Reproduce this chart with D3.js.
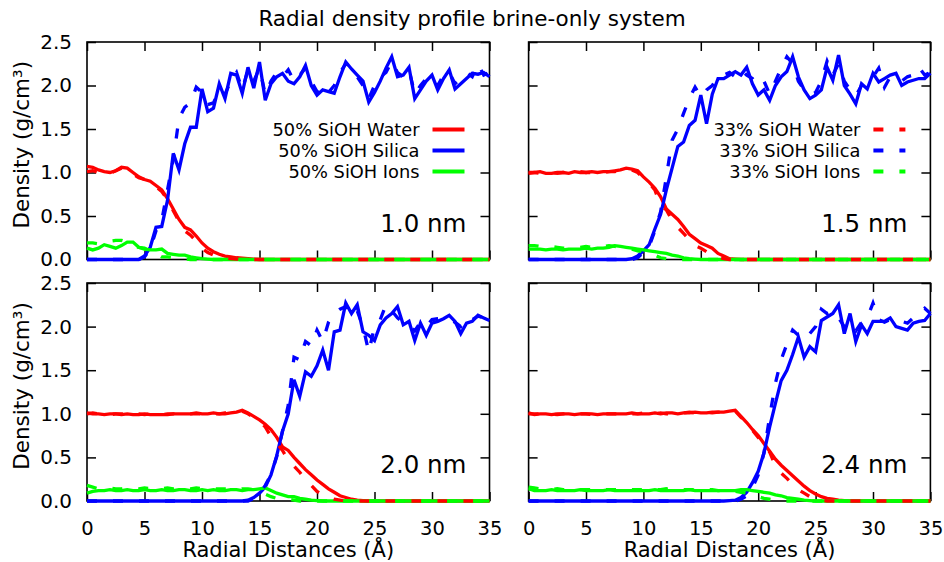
<!DOCTYPE html>
<html><head><meta charset="utf-8">
<script src="https://cdn.jsdelivr.net/npm/d3@7"></script>
<style>body{margin:0;background:#fff}svg{display:block}</style>
</head><body>
<svg id="c" width="944" height="562"></svg>
<script>
// ---------- DATA ----------
const radius = [0,0.5,1,1.5,2,2.5,3,3.5,4,4.5,5,5.5,6,6.5,7,7.5,8,8.5,9,9.5,10,10.5,11,11.5,12,12.5,13,13.5,14,14.5,15,15.5,16,16.5,17,17.5,18,18.5,19,19.5,20,20.5,21,21.5,22,22.5,23,23.5,24,24.5,25,25.5,26,26.5,27,27.5,28,28.5,29,29.5,30,30.5,31,31.5,32,32.5,33,33.5,34,34.5,35];
const xTickValues = [0,5,10,15,20,25,30,35];
const yTickValues = [0,0.5,1.0,1.5,2.0,2.5];
const panelLabels = ["1.0 nm","1.5 nm","2.0 nm","2.4 nm"];
const seriesNames50 = ["50% SiOH Water","50% SiOH Silica","50% SiOH Ions"];
const seriesNames33 = ["33% SiOH Water","33% SiOH Silica","33% SiOH Ions"];

// 1.0 nm
const water50_10 = [1.07,1.06,1.03,1.01,1.00,1.02,1.06,1.05,1.00,0.95,
0.92,0.90,0.85,0.80,0.70,0.58,0.46,0.37,0.34,0.27,
0.19,0.13,0.09,0.06,0.04,0.03,0.02,0.015,0.01,0.005,
0,0,0,0,0,0,0,0,0,0, 0,0,0,0,0,0,0,0,0,0, 0,0,0,0,0,0,0,0,0,0, 0,0,0,0,0,0,0,0,0,0, 0];
const silica50_10 = [0,0,0,0,0,0,0,0,0,0,
0.04,0.14,0.37,0.38,0.68,1.22,1.03,1.33,1.52,1.52,
1.96,1.70,1.74,2.02,1.85,2.14,2.12,1.91,2.21,1.97,
2.27,1.83,2.02,2.10,2.14,2.05,2.02,2.10,2.23,2.00,
1.89,1.95,1.93,1.91,2.10,2.27,2.19,2.12,2.05,1.81,
1.92,2.05,2.20,2.33,2.10,2.12,2.21,1.85,1.95,2.05,
2.12,1.95,2.08,2.18,1.96,2.02,2.08,2.14,2.13,2.15,
2.10];
const ions50_10 = [0.13,0.11,0.13,0.17,0.15,0.13,0.16,0.20,0.20,0.14,
0.12,0.11,0.11,0.12,0.07,0.06,0.05,0.05,0.03,0.02,
0.01,0.005,0,0,0,0,0,0,0,0,
0,0,0,0,0,0,0,0,0,0, 0,0,0,0,0,0,0,0,0,0, 0,0,0,0,0,0,0,0,0,0, 0,0,0,0,0,0,0,0,0,0, 0];
const water33_10 = [1.01,1.02,1.00,0.99,0.99,1.02,1.05,1.03,0.98,0.94,
0.92,0.88,0.84,0.78,0.69,0.56,0.44,0.33,0.28,0.21,
0.13,0.08,0.05,0.03,0.02,0.01,0.005,0,0,0,
0,0,0,0,0,0,0,0,0,0, 0,0,0,0,0,0,0,0,0,0, 0,0,0,0,0,0,0,0,0,0, 0,0,0,0,0,0,0,0,0,0, 0];
const silica33_10 = [0,0,0,0,0,0,0,0,0,0,
0.03,0.12,0.33,0.45,0.80,1.15,1.62,1.75,1.80,1.98,
1.92,1.78,1.80,1.95,1.90,2.05,2.15,1.95,2.18,2.05,
2.20,1.90,2.05,2.15,2.10,2.18,2.05,2.12,2.20,2.05,
1.93,2.00,1.92,2.00,2.15,2.25,2.22,2.10,2.00,1.85,
2.00,2.10,2.15,2.28,2.15,2.10,2.18,1.90,2.00,2.08,
2.10,2.00,2.12,2.15,2.02,2.08,2.15,2.10,2.25,2.12,
2.15];
const ions33_10 = [0.19,0.19,0.18,0.19,0.21,0.22,0.22,0.20,0.16,0.14,
0.13,0.10,0.07,0.03,0.03,0.02,0.01,0.005,0,0,
0,0,0,0,0,0,0,0,0,0,
0,0,0,0,0,0,0,0,0,0, 0,0,0,0,0,0,0,0,0,0, 0,0,0,0,0,0,0,0,0,0, 0,0,0,0,0,0,0,0,0,0, 0];

// 1.5 nm
const water50_15 = [0.99,1.00,1.01,0.99,0.99,1.00,1.00,0.99,1.01,1.00,
1.00,1.01,1.00,1.01,1.01,1.02,1.03,1.05,1.04,1.02,
0.95,0.89,0.82,0.72,0.58,0.52,0.46,0.38,0.29,0.24,
0.19,0.16,0.13,0.07,0.04,0.01,0.005,0,0,0,
0,0,0,0,0,0,0,0,0,0, 0,0,0,0,0,0,0,0,0,0, 0,0,0,0,0,0,0,0,0,0, 0];
const silica50_15 = [0,0,0,0,0,0,0,0,0,0,
0,0,0,0,0,0,0,0,0.01,0.04,
0.10,0.17,0.35,0.52,0.80,1.05,1.30,1.35,1.54,1.60,
1.89,1.56,1.90,2.08,2.08,2.12,2.16,2.12,2.21,2.02,
1.89,1.95,1.83,2.00,2.10,2.16,2.33,2.10,1.95,1.85,
1.89,1.95,2.21,2.06,2.35,2.00,1.90,1.79,2.02,1.96,
2.14,2.04,2.08,2.12,2.14,2.00,2.04,2.06,2.08,2.08,
2.14];
const ions50_15 = [0.12,0.12,0.12,0.11,0.12,0.12,0.11,0.12,0.12,0.12,
0.13,0.12,0.13,0.13,0.14,0.16,0.15,0.14,0.13,0.12,
0.11,0.10,0.09,0.08,0.07,0.05,0.04,0.02,0.01,0.005,
0,0,0,0,0,0,0,0,0,0, 0,0,0,0,0,0,0,0,0,0, 0,0,0,0,0,0,0,0,0,0, 0,0,0,0,0,0,0,0,0,0, 0];
const water33_15 = [1.00,1.00,0.99,1.00,1.00,0.99,1.00,1.00,1.00,1.01,
1.00,1.00,1.01,1.00,1.01,1.01,1.02,1.04,1.03,1.00,
0.93,0.88,0.80,0.62,0.57,0.45,0.37,0.30,0.23,0.16,
0.13,0.09,0.06,0.03,0.01,0,0,0,0,0,
0,0,0,0,0,0,0,0,0,0, 0,0,0,0,0,0,0,0,0,0, 0,0,0,0,0,0,0,0,0,0, 0];
const silica33_15 = [0,0,0,0,0,0,0,0,0,0,
0,0,0,0,0,0,0,0,0,0.02,
0.08,0.15,0.33,0.55,0.95,1.37,1.50,1.68,1.85,1.98,
1.87,1.95,2.00,2.10,2.12,2.15,2.10,2.18,2.12,2.08,
2.00,2.05,1.90,2.05,2.20,2.33,2.25,2.05,1.95,1.90,
1.92,2.05,2.28,2.12,2.25,2.05,1.95,1.88,2.00,2.05,
2.10,2.20,1.98,2.10,2.08,2.05,2.10,2.12,2.21,2.12,
2.15];
const ions33_15 = [0.16,0.16,0.15,0.14,0.15,0.14,0.13,0.13,0.14,0.14,
0.15,0.14,0.15,0.15,0.16,0.15,0.14,0.13,0.12,0.10,
0.09,0.07,0.05,0.02,0.01,0,0,0,0,0,
0,0,0,0,0,0,0,0,0,0, 0,0,0,0,0,0,0,0,0,0, 0,0,0,0,0,0,0,0,0,0, 0,0,0,0,0,0,0,0,0,0, 0];

// 2.0 nm
const water50_20 = [1.01,1.00,1.00,0.99,1.00,1.00,0.99,1.00,0.99,0.99,
1.00,0.99,0.99,0.99,0.99,1.00,1.00,1.00,1.00,1.01,
1.00,1.00,1.01,1.00,1.00,1.01,1.02,1.04,1.01,0.97,
0.93,0.88,0.82,0.73,0.62,0.58,0.50,0.43,0.36,0.30,
0.24,0.19,0.14,0.10,0.06,0.04,0.02,0.01,0.005,0,
0,0,0,0,0,0,0,0,0,0, 0,0,0,0,0,0,0,0,0,0, 0];
const silica50_20 = [0,0,0,0,0,0,0,0,0,0,
0,0,0,0,0,0,0,0,0,0,
0,0,0,0,0,0,0,0,0.01,0.04,
0.09,0.16,0.30,0.52,0.80,1.00,1.39,1.20,1.48,1.43,
1.55,1.73,1.50,1.94,1.96,2.27,2.15,2.25,1.94,1.90,
1.84,2.02,2.10,2.15,2.23,2.02,2.06,1.84,2.04,1.90,
2.04,2.06,2.09,2.13,2.06,1.92,2.04,2.06,2.13,2.10,
2.07];
const ions50_20 = [0.09,0.11,0.12,0.12,0.13,0.12,0.12,0.13,0.12,0.12,
0.13,0.12,0.12,0.13,0.12,0.12,0.13,0.13,0.12,0.12,
0.13,0.12,0.13,0.12,0.12,0.13,0.13,0.12,0.13,0.13,
0.14,0.15,0.12,0.09,0.07,0.05,0.05,0.03,0.02,0.01,
0.005,0,0,0,0,0,0,0,0,0,
0,0,0,0,0,0,0,0,0,0, 0,0,0,0,0,0,0,0,0,0, 0];
const water33_20 = [1.00,1.01,1.00,1.00,0.99,1.00,1.00,0.99,1.00,1.00,
0.99,1.00,1.00,0.99,1.00,1.00,0.99,1.00,1.00,1.00,
1.00,1.01,1.00,1.00,1.01,1.01,1.02,1.03,1.00,0.96,
0.92,0.85,0.74,0.66,0.58,0.47,0.40,0.33,0.24,0.18,
0.11,0.07,0.04,0.02,0.01,0,0,0,0,0,
0,0,0,0,0,0,0,0,0,0, 0,0,0,0,0,0,0,0,0,0, 0];
const silica33_20 = [0,0,0,0,0,0,0,0,0,0,
0,0,0,0,0,0,0,0,0,0,
0,0,0,0,0,0,0,0,0,0.03,
0.08,0.18,0.30,0.51,0.80,1.10,1.65,1.62,1.83,1.78,
1.96,1.83,2.05,2.15,2.20,2.23,2.12,2.18,2.00,1.71,
2.00,2.08,2.25,2.18,2.10,2.05,2.02,1.95,2.05,2.00,
2.08,2.09,2.10,2.08,2.05,2.00,2.10,2.08,2.12,2.10,
2.08];
const ions33_20 = [0.18,0.16,0.14,0.14,0.15,0.14,0.14,0.15,0.14,0.14,
0.15,0.14,0.14,0.14,0.15,0.14,0.14,0.14,0.14,0.15,
0.14,0.14,0.14,0.14,0.14,0.14,0.13,0.14,0.14,0.13,
0.13,0.08,0.05,0.03,0.03,0.02,0.01,0,0,0,
0,0,0,0,0,0,0,0,0,0, 0,0,0,0,0,0,0,0,0,0, 0,0,0,0,0,0,0,0,0,0, 0];

// 2.4 nm
const water50_24 = [1.01,0.99,1.00,1.00,0.99,1.00,1.00,1.00,0.99,1.00,
1.00,1.00,0.99,1.00,1.00,1.00,1.00,1.00,1.01,1.00,
1.00,1.00,1.01,1.00,1.01,1.01,1.00,1.01,1.01,1.02,
1.01,1.01,1.02,1.02,1.02,1.03,1.04,0.97,0.90,0.82,
0.75,0.66,0.57,0.48,0.41,0.35,0.29,0.23,0.17,0.12,
0.08,0.05,0.03,0.02,0.01,0.005,0,0,0,0,
0,0,0,0,0,0,0,0,0,0, 0];
const silica50_24 = [0,0,0,0,0,0,0,0,0,0,
0,0,0,0,0,0,0,0,0,0,
0,0,0,0,0,0,0,0,0,0,
0,0,0,0,0,0.005,0.01,0.04,0.10,0.21,
0.34,0.55,0.85,1.12,1.38,1.50,1.68,1.88,1.65,1.77,
1.71,2.07,2.11,2.15,2.25,1.92,2.15,1.83,2.02,1.92,
2.06,2.06,2.06,2.10,2.00,1.98,1.96,2.04,2.06,2.07,
2.15];
const ions50_24 = [0.14,0.12,0.12,0.12,0.13,0.12,0.12,0.12,0.12,0.13,
0.12,0.12,0.12,0.12,0.13,0.12,0.12,0.12,0.12,0.12,
0.12,0.12,0.13,0.12,0.12,0.12,0.12,0.12,0.13,0.12,
0.12,0.12,0.12,0.12,0.12,0.12,0.12,0.13,0.13,0.12,
0.11,0.10,0.09,0.07,0.06,0.04,0.03,0.02,0.01,0.005,
0,0,0,0,0,0,0,0,0,0, 0,0,0,0,0,0,0,0,0,0, 0];
const water33_24 = [1.00,1.00,1.00,1.00,1.00,0.99,1.00,1.00,1.00,1.00,
1.00,0.99,1.00,1.00,1.00,1.00,1.00,1.00,1.00,1.00,
1.01,1.00,1.00,1.01,1.00,1.00,1.01,1.01,1.02,1.01,
1.01,1.02,1.01,1.02,1.02,1.02,1.03,0.96,0.90,0.81,
0.73,0.65,0.56,0.40,0.32,0.26,0.19,0.13,0.09,0.05,
0.02,0.01,0,0,0,0,0,0,0,0,
0,0,0,0,0,0,0,0,0,0, 0];
const silica33_24 = [0,0,0,0,0,0,0,0,0,0,
0,0,0,0,0,0,0,0,0,0,
0,0,0,0,0,0,0,0,0,0,
0,0,0,0,0,0,0,0.02,0.06,0.15,
0.30,0.55,0.97,1.35,1.62,1.80,1.96,1.90,1.85,1.92,
2.00,2.20,2.15,2.18,2.10,2.00,2.05,1.95,2.05,2.10,
2.27,2.08,2.05,2.08,2.05,2.06,2.04,2.10,2.15,2.21,
2.15];
const ions33_24 = [0.16,0.15,0.14,0.14,0.13,0.14,0.13,0.13,0.14,0.13,
0.13,0.13,0.14,0.13,0.13,0.13,0.13,0.14,0.13,0.13,
0.13,0.13,0.13,0.13,0.14,0.13,0.13,0.13,0.13,0.13,
0.13,0.13,0.13,0.12,0.12,0.12,0.11,0.10,0.09,0.08,
0.05,0.03,0.02,0.01,0,0,0,0,0,0,
0,0,0,0,0,0,0,0,0,0, 0,0,0,0,0,0,0,0,0,0, 0];

// ---------- LAYOUT ----------
const W = 944, H = 562;
const FONT = "DejaVu Sans, Noto Sans, sans-serif";
const colors = ["#ff0000", "#0000ff", "#00ff00"];
const LW = 3.3;
const DASH = "10,16";
const cols = [{l: 87, r: 489.5}, {l: 528.6, r: 930.4}];
const rows = [{t: 42, b: 259.5}, {t: 283, b: 501}];

const panels = [
  {label: panelLabels[0], c: 0, r: 0, s50: [water50_10, silica50_10, ions50_10], s33: [water33_10, silica33_10, ions33_10], legend: seriesNames50, dashed: false},
  {label: panelLabels[1], c: 1, r: 0, s50: [water50_15, silica50_15, ions50_15], s33: [water33_15, silica33_15, ions33_15], legend: seriesNames33, dashed: true},
  {label: panelLabels[2], c: 0, r: 1, s50: [water50_20, silica50_20, ions50_20], s33: [water33_20, silica33_20, ions33_20], legend: null},
  {label: panelLabels[3], c: 1, r: 1, s50: [water50_24, silica50_24, ions50_24], s33: [water33_24, silica33_24, ions33_24], legend: null}
];

const svg = d3.select("#c");
svg.append("rect").attr("width", W).attr("height", H).attr("fill", "#fff");

svg.append("text").attr("x", 472).attr("y", 26).attr("text-anchor", "middle")
  .attr("font-family", FONT).attr("font-size", 21.5).attr("fill", "#000")
  .text("Radial density profile brine-only system");

panels.forEach(p => {
  const C = cols[p.c], R = rows[p.r];
  const x = d3.scaleLinear().domain([0, 35]).range([C.l, C.r]);
  const y = d3.scaleLinear().domain([0, 2.5]).range([R.b, R.t]);
  const g = svg.append("g");

  const styleAxis = sel => {
    sel.select(".domain").remove();
    sel.selectAll(".tick line").attr("stroke", "#000").attr("stroke-width", 1.5);
    sel.selectAll("text").attr("font-family", FONT).attr("fill", "#000");
  };
  g.append("g").attr("transform", `translate(0,${R.b})`)
    .call(d3.axisBottom(x).tickValues(xTickValues).tickSize(-9).tickPadding(20)
      .tickFormat(p.r === 1 ? d3.format("d") : () => ""))
    .call(styleAxis).selectAll("text").attr("font-size", 19.5);
  g.append("g").attr("transform", `translate(0,${R.t})`)
    .call(d3.axisTop(x).tickValues(xTickValues).tickSize(-9).tickFormat(() => ""))
    .call(styleAxis);
  g.append("g").attr("transform", `translate(${C.l},0)`)
    .call(d3.axisLeft(y).tickValues(yTickValues).tickSize(-9).tickPadding(15)
      .tickFormat(p.c === 0 ? d3.format(".1f") : () => ""))
    .call(styleAxis).selectAll("text").attr("font-size", 20);
  g.append("g").attr("transform", `translate(${C.r},0)`)
    .call(d3.axisRight(y).tickValues(yTickValues).tickSize(-9).tickFormat(() => ""))
    .call(styleAxis);

  g.append("rect").attr("x", C.l).attr("y", R.t).attr("width", C.r - C.l).attr("height", R.b - R.t)
    .attr("fill", "none").attr("stroke", "#000").attr("stroke-width", 1.6);

  const line = d3.line().x((d, i) => x(radius[i])).y(d => y(d));
  const drawSet = (set, dashed) => set.forEach((vals, k) => {
    g.append("path").datum(vals).attr("d", line)
      .attr("fill", "none").attr("stroke", colors[k]).attr("stroke-width", LW)
      .attr("stroke-dasharray", dashed ? DASH : null);
  });
  drawSet(p.s50, false);
  drawSet(p.s33, true);

  g.append("text").attr("x", C.r - 23).attr("y", R.b - 28).attr("text-anchor", "end")
    .attr("font-family", FONT).attr("font-size", 24.5).attr("fill", "#000").text(p.label);

  if (p.legend) {
    p.legend.forEach((name, k) => {
      const by = R.t + 93.5 + k * 21;
      g.append("text").attr("x", C.r - 70).attr("y", by).attr("text-anchor", "end")
        .attr("font-family", FONT).attr("font-size", 17.8).attr("fill", "#000").text(name);
      g.append("line").attr("x1", C.r - 57).attr("x2", C.r - 25).attr("y1", by - 6).attr("y2", by - 6)
        .attr("stroke", colors[k]).attr("stroke-width", LW + 0.5)
        .attr("stroke-dasharray", p.dashed ? DASH : null);
    });
  }

  if (p.c === 0) {
    const cy = (R.t + R.b) / 2 - 6;
    g.append("text").attr("transform", `translate(29,${cy}) rotate(-90)`).attr("text-anchor", "middle")
      .attr("font-family", FONT).attr("font-size", 21.5).attr("fill", "#000").text("Density (g/cm³)");
  }
  if (p.r === 1) {
    g.append("text").attr("x", (C.l + C.r) / 2).attr("y", 557).attr("text-anchor", "middle")
      .attr("font-family", FONT).attr("font-size", 21).attr("fill", "#000").text("Radial Distances (Å)");
  }
});
</script>
</body></html>
